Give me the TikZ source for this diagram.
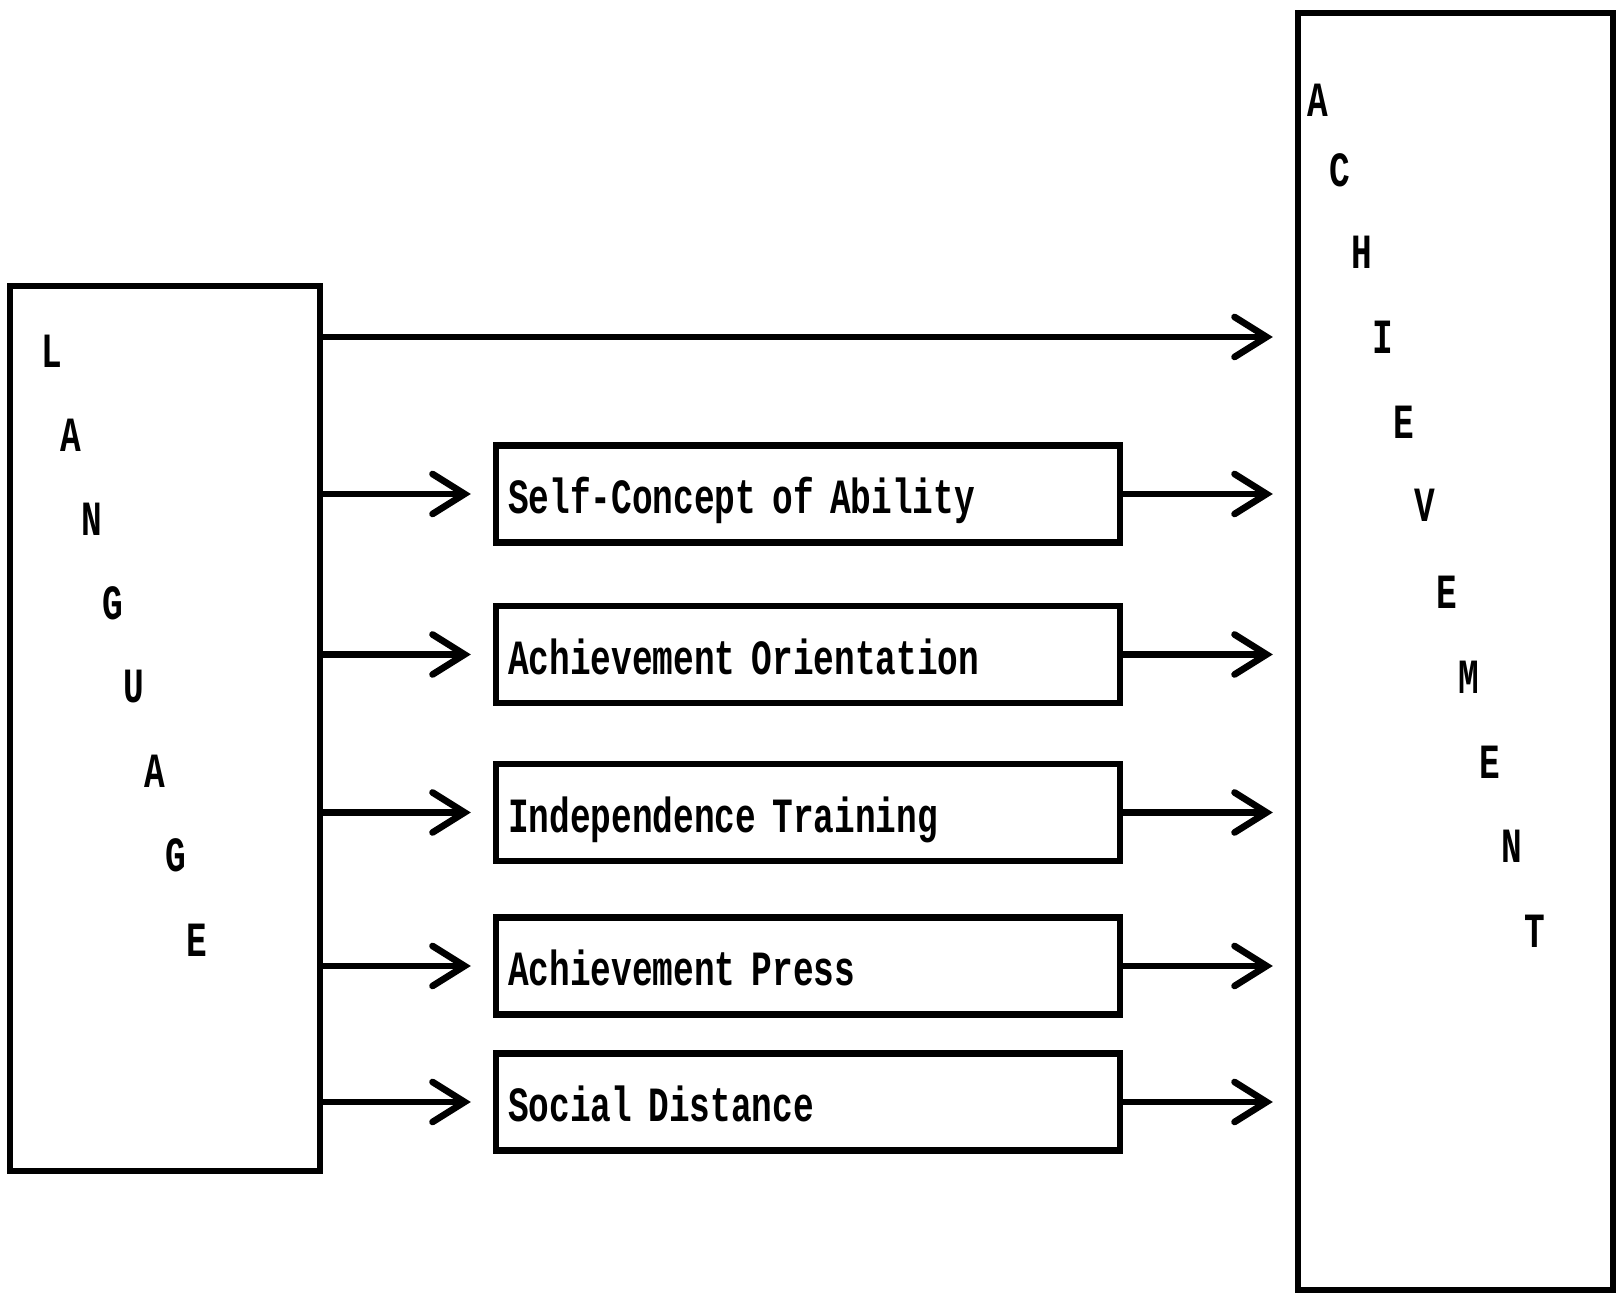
\documentclass[tikz,border=0pt]{standalone}
\usepackage{fontspec}
\newfontfamily\typew[FakeStretch=0.7]{Liberation Mono}
\usepackage{tikz}
\usetikzlibrary{positioning}
\usetikzlibrary{arrows.meta}

\begin{document}
\begin{tikzpicture}[
  font=\typew\bfseries\fontsize{14}{16}\selectfont,
  bigbox/.style={draw, line width=1.8pt},
  varbox/.style={draw, line width=1.8pt, minimum width=6.24cm, minimum height=0.97cm,
    text width=6.0cm, text height=0.40cm, text depth=0cm, align=left, inner xsep=0.12cm},
  letter/.style={inner sep=0pt},
  arr/.style={-{Straight Barb[length=3.2mm, width=4mm, line cap=round]}, line width=1.9pt, shorten >=2.2mm}
]
\useasboundingbox (0,0) rectangle (16.17,12.94);

% Outer boxes
\node[bigbox, minimum width=3.10cm, minimum height=8.85cm] (lang) at (1.65,5.655) {};
\node[bigbox, minimum width=3.15cm, minimum height=12.77cm] (ach) at (14.555,6.425) {};

% Letters, left box
\node[letter] (l1) at (0.52,9.43) {L};
\node[letter] (l2) at (0.71,8.59) {A};
\node[letter] (l3) at (0.92,7.75) {N};
\node[letter] (l4) at (1.13,6.91) {G};
\node[letter] (l5) at (1.34,6.07) {U};
\node[letter] (l6) at (1.55,5.23) {A};
\node[letter] (l7) at (1.76,4.39) {G};
\node[letter] (l8) at (1.97,3.54) {E};

% Letters, right box
\node[letter] (a1) at (13.18,11.94) {A};
\node[letter] (a2) at (13.40,11.24) {C};
\node[letter] (a3) at (13.62,10.42) {H};
\node[letter] (a4) at (13.83,9.57) {I};
\node[letter] (a5) at (14.04,8.72) {E};
\node[letter] (a6) at (14.25,7.89) {V};
\node[letter] (a7) at (14.47,7.02) {E};
\node[letter] (a8) at (14.69,6.17) {M};
\node[letter] (a9) at (14.90,5.32) {E};
\node[letter] (a10) at (15.12,4.48) {N};
\node[letter] (a11) at (15.35,3.63) {T};

% Middle boxes
\node[varbox] (sca) at (8.08,8.00) {Self-Concept of Ability};
\node[varbox] (ao)  at (8.08,6.395) {Achievement Orientation};
\node[varbox] (it)  at (8.08,4.815) {Independence Training};
\node[varbox] (ap)  at (8.08,3.28) {Achievement Press};
\node[varbox] (sd)  at (8.08,1.92) {Social Distance};

% Direct arrow
\coordinate (toprow) at (0,9.57);
\draw[arr] (lang.east |- toprow) -- (ach.west |- toprow);

% Arrows in
\draw[arr] (lang.east |- sca.west) -- (sca.west);
\draw[arr] (lang.east |- ao.west) -- (ao.west);
\draw[arr] (lang.east |- it.west) -- (it.west);
\draw[arr] (lang.east |- ap.west) -- (ap.west);
\draw[arr] (lang.east |- sd.west) -- (sd.west);

% Arrows out
\draw[arr] (sca.east) -- (ach.west |- sca.east);
\draw[arr] (ao.east) -- (ach.west |- ao.east);
\draw[arr] (it.east) -- (ach.west |- it.east);
\draw[arr] (ap.east) -- (ach.west |- ap.east);
\draw[arr] (sd.east) -- (ach.west |- sd.east);

\end{tikzpicture}
\end{document}
